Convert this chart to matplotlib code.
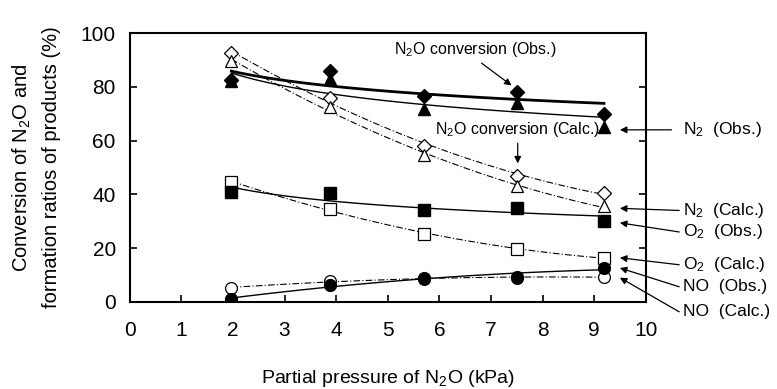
import numpy as np
import matplotlib
matplotlib.use("Agg")
import matplotlib.pyplot as plt

plt.rcParams['font.family'] = ['Liberation Sans', 'DejaVu Sans']
plt.rcParams['mathtext.default'] = 'regular'

# Partial pressure of N2O (kPa)
pressure = [1.97, 3.88, 5.71, 7.5, 9.19]

# Observed values (%)
n2o_obs = [82.5, 86.0, 76.6, 78.0, 70.0]
n2_obs = [82.0, 83.0, 71.7, 74.0, 65.0]
o2_obs = [41.0, 40.5, 34.0, 35.0, 30.0]
no_obs = [1.0, 6.3, 9.0, 9.3, 12.6]

# Calculated values (%)
n2o_calc = [92.5, 76.0, 58.0, 47.0, 40.5]
n2_calc = [89.6, 72.5, 54.5, 43.0, 35.5]
o2_calc = [44.6, 34.6, 25.3, 19.7, 16.4]
no_calc = [5.2, 7.8, 8.5, 9.0, 9.3]

fig = plt.figure(figsize=(7.77, 3.89), dpi=100)
ax = fig.add_axes([0.167, 0.224, 0.664, 0.691])

xx = np.linspace(min(pressure), max(pressure), 100)


def power_fit(y, **kw):
    # y = a * x^b, fitted in log space
    b, a = np.polyfit(np.log(pressure), np.log(y), 1)
    ax.plot(xx, np.exp(a) * xx ** b, color='black', **kw)


def quad_fit(y, **kw):
    c = np.polyfit(pressure, y, 2)
    ax.plot(xx, np.polyval(c, xx), color='black', **kw)


# fitted curves
power_fit(n2o_obs, lw=2.0, ls='-')
power_fit(n2_obs, lw=1.0, ls='-')
power_fit(o2_obs, lw=1.0, ls='-')
quad_fit(no_obs, lw=1.0, ls='-')
for s in (n2o_calc, n2_calc, o2_calc, no_calc):
    quad_fit(s, lw=0.8, ls=(0, (6, 2, 1, 2)))

ms = 8.5
ax.plot(pressure, n2o_calc, 'D', ms=ms - 1.5, mfc='white', mec='black', mew=0.9, ls='none')
ax.plot(pressure, n2_calc, '^', ms=ms, mfc='white', mec='black', mew=0.9, ls='none')
ax.plot(pressure, o2_calc, 's', ms=ms - 0.5, mfc='white', mec='black', mew=0.9, ls='none')
ax.plot(pressure, no_calc, 'o', ms=ms, mfc='white', mec='black', mew=0.9, ls='none')
ax.plot(pressure, n2o_obs, 'D', ms=ms - 1.5, mfc='black', mec='black', ls='none')
ax.plot(pressure, n2_obs, '^', ms=ms, mfc='black', mec='black', ls='none')
ax.plot(pressure, o2_obs, 's', ms=ms - 0.5, mfc='black', mec='black', ls='none')
ax.plot(pressure, no_obs, 'o', ms=ms, mfc='black', mec='black', ls='none')

ax.set_xlim(0, 10)
ax.set_ylim(0, 100)
ax.set_xticks(range(0, 11))
ax.set_yticks(range(0, 101, 20))
ax.tick_params(direction='in', length=5, width=1.2, labelsize=15, right=True)
ax.tick_params(axis='y', pad=10)
ax.tick_params(axis='x', pad=14)
for sp in ax.spines.values():
    sp.set_linewidth(1.5)

ax.set_xlabel('Partial pressure of N$_2$O (kPa)', fontsize=14, labelpad=20)
ax.set_ylabel('Conversion of N$_2$O and\nformation ratios of products (%)', fontsize=14.5,
              labelpad=14, linespacing=1.6)

arrow = dict(arrowstyle='-|>', color='black', lw=0.9, mutation_scale=10, shrinkA=0, shrinkB=0)

ax.text(6.69, 93.7, 'N$_2$O conversion (Obs.)', ha='center', va='center', fontsize=11.5)
ax.annotate('', xy=(7.4, 80.5), xytext=(6.82, 88.8), arrowprops=arrow)
ax.text(7.52, 64.0, 'N$_2$O conversion (Calc.)', ha='center', va='center', fontsize=11.5)
ax.annotate('', xy=(7.52, 51.5), xytext=(7.52, 59.0), arrowprops=arrow)

right_labels = [
    ('N$_2$  (Obs.)', 64.0, 10.5, 64.0),
    ('N$_2$  (Calc.)', 34.0, 10.65, 34.8),
    ('O$_2$  (Obs.)', 26.0, 10.65, 29.4),
    ('O$_2$  (Calc.)', 13.8, 10.65, 16.4),
    ('NO  (Obs.)', 5.6, 10.65, 12.6),
    ('NO  (Calc.)', -3.7, 10.65, 9.0),
]
for label, ty, tail_x, tip_y in right_labels:
    ax.annotate('', xy=(9.5, tip_y), xytext=(tail_x, ty), arrowprops=arrow,
                annotation_clip=False)
    ax.text(10.72, ty, label, ha='left', va='center', fontsize=12.5, clip_on=False)

fig.savefig('out.png', dpi=100)
